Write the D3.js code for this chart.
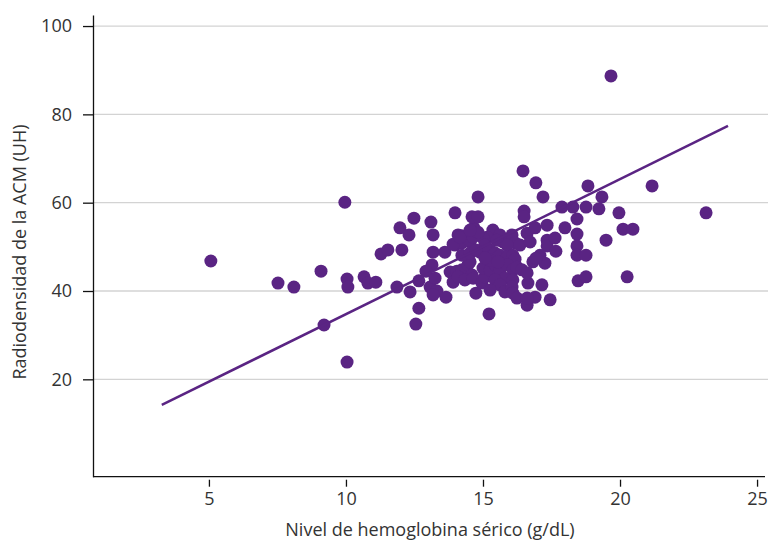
<!DOCTYPE html>
<html><head><meta charset="utf-8">
<script src="https://cdn.jsdelivr.net/npm/d3@7"></script>
<style>body{margin:0;background:#fff}svg{display:block}</style>
</head><body>
<svg id="c" width="768" height="542"></svg>
<script>
const xTicks = [5, 10, 15, 20, 25];
const yTicks = [20, 40, 60, 80, 100];
const xTitle = "Nivel de hemoglobina sérico (g/dL)";
const yTitle = "Radiodensidad de la ACM (UH)";
const hemoglobin = [5.07,7.52,8.10,9.09,9.20,9.96,10.04,10.07,10.04,10.66,10.80,11.09,11.28,11.53,11.86,11.97,12.04,12.48,13.10,12.30,13.18,13.18,13.61,13.98,13.98,14.23,13.14,12.92,13.80,14.05,14.23,14.45,14.53,14.60,12.34,12.66,13.07,13.25,13.32,13.18,13.65,13.91,14.09,14.34,14.64,14.74,14.96,15.07,12.66,12.55,15.22,14.09,14.23,13.91,14.53,14.16,14.64,14.67,14.60,14.82,14.82,14.23,14.53,15.36,15.15,15.62,15.73,15.51,15.00,16.06,16.17,15.88,16.35,16.61,16.50,16.50,16.46,16.93,17.19,14.89,15.26,15.44,15.62,15.88,16.09,16.17,15.00,15.26,15.44,15.62,15.88,16.09,16.24,16.42,15.26,15.55,15.07,15.80,15.44,15.62,15.26,15.80,16.09,16.06,16.09,16.24,16.61,16.90,16.64,16.61,17.15,17.45,17.26,16.82,16.90,17.34,17.99,18.43,18.43,17.88,18.28,18.76,19.23,18.83,19.34,19.96,20.11,20.47,19.49,18.43,18.43,18.76,18.47,18.76,20.26,21.17,23.14,19.67,17.34,17.34,17.63,16.72,17.66,17.08,16.93,14.82,15.07,14.74,14.53,16.61];
const density = [46.8,41.8,40.9,44.5,32.3,60.1,42.7,40.9,23.9,43.2,41.8,42.0,48.4,49.3,40.9,54.3,49.3,56.5,55.6,52.7,52.7,48.8,48.8,57.7,50.4,50.9,45.9,44.5,44.3,44.5,44.8,45.9,46.6,43.6,39.8,42.3,40.9,42.9,40.0,39.1,38.6,42.0,43.2,42.5,42.9,39.5,41.8,43.2,36.1,32.5,34.8,52.7,52.5,50.6,51.1,52.2,52.2,54.3,56.8,56.8,61.3,48.1,48.6,53.8,52.2,52.7,51.1,51.5,52.0,52.7,50.9,50.4,50.4,53.1,58.1,56.8,67.2,64.5,61.3,48.8,49.3,48.6,48.1,47.7,48.1,47.2,45.2,44.8,45.9,44.8,45.9,44.8,45.4,44.8,47.0,46.6,47.5,42.9,42.5,41.4,40.2,39.8,42.5,40.9,39.5,38.4,36.8,38.6,41.8,44.1,41.4,38.0,46.3,46.6,54.3,54.9,54.3,56.3,52.9,59.0,59.0,59.0,58.6,63.8,61.3,57.7,54.0,54.0,51.5,50.2,48.1,48.1,42.3,43.2,43.2,63.8,57.7,88.7,51.5,50.2,52.0,51.1,49.0,48.1,47.4,53.3,50.4,49.3,53.8,38.4];
const fitX = [3.28, 23.94];
const fitY = [14.2, 77.4];

const purple = "#5a2483";
const svg = d3.select("#c");
const x = d3.scaleLinear().domain([0.77, 25.29]).range([93, 765]);
const y = d3.scaleLinear().domain([-2.05, 102.5]).range([476.7, 15]);
const font = "'Open Sans', 'Noto Sans', sans-serif";

// grid
svg.append("g").selectAll("line").data(yTicks).join("line")
  .attr("x1", 93).attr("x2", 768)
  .attr("y1", d => y(d)).attr("y2", d => y(d))
  .attr("stroke", "#d3d3d3").attr("stroke-width", 1.3);

// y axis
const yAxis = svg.append("g").attr("transform", "translate(93,0)")
  .call(d3.axisLeft(y).tickValues(yTicks).tickSize(10).tickSizeOuter(0).tickPadding(11));
yAxis.select(".domain").attr("stroke", "#111").attr("stroke-width", 1.3);
yAxis.selectAll(".tick line").attr("stroke", "#111").attr("stroke-width", 1.3);
yAxis.selectAll("text").attr("font-family", font).attr("font-size", 18).attr("fill", "#333");

// x axis
svg.append("line").attr("x1", 93).attr("x2", 765).attr("y1", y(-2.05)).attr("y2", y(-2.05))
  .attr("stroke", "#111").attr("stroke-width", 1.3);
const xAxis = svg.append("g").attr("transform", `translate(0,${y(-2.05) + 3})`)
  .call(d3.axisBottom(x).tickValues(xTicks).tickSize(7).tickSizeOuter(0).tickPadding(6));
xAxis.select(".domain").remove();
xAxis.selectAll(".tick line").attr("stroke", "#111").attr("stroke-width", 1.3);
xAxis.selectAll("text").attr("font-family", font).attr("font-size", 18).attr("fill", "#333");

// titles
svg.append("text").attr("x", 430).attr("y", 536).attr("text-anchor", "middle")
  .attr("font-family", font).attr("font-size", 18).attr("fill", "#333").text(xTitle);
svg.append("text").attr("transform", "translate(26,252) rotate(-90)").attr("text-anchor", "middle")
  .attr("font-family", font).attr("font-size", 18).attr("fill", "#333").text(yTitle);

// points
svg.append("g").selectAll("circle").data(hemoglobin.map((h, i) => [h, density[i]])).join("circle")
  .attr("cx", d => x(d[0])).attr("cy", d => y(d[1])).attr("r", 6.5).attr("fill", purple);

// fit line
svg.append("line")
  .attr("x1", x(fitX[0])).attr("y1", y(fitY[0]))
  .attr("x2", x(fitX[1])).attr("y2", y(fitY[1]))
  .attr("stroke", purple).attr("stroke-width", 2.5);
</script>
</body></html>
